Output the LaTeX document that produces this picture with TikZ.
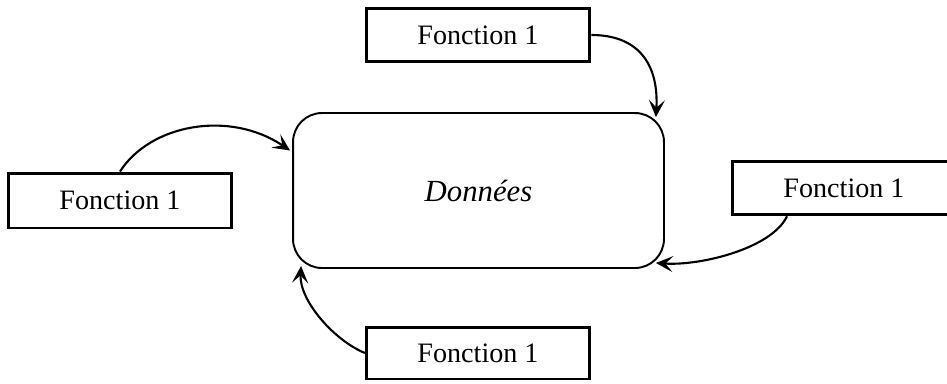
\documentclass[tikz,border=0pt]{standalone}
\usepackage{fontspec}
\setmainfont{Liberation Serif}
\usetikzlibrary{arrows.meta,calc}
\tikzset{
  fbox/.style={draw, line width=1.7pt, rectangle, inner sep=0pt,
    font=\fontsize{16}{19}\selectfont, minimum height=1.07cm},
  databox/.style={draw, line width=1.1pt, rounded corners=0.58cm,
    minimum width=7.42cm, minimum height=3.1cm,
    font=\fontsize{17.5}{21}\selectfont\itshape},
  flow/.style={line width=1.2pt,
    -{Stealth[length=0.34cm,width=0.32cm,inset=0.15cm]}},
}
\begin{document}
\begin{tikzpicture}[x=0.02cm,y=-0.02cm]
\useasboundingbox (0,0) rectangle (947,383);

% central data store
\node[databox] (data) at (478.5,190.5) {Données};

% the four functions around it
\node[fbox, minimum width=4.48cm] (ftop)   at (478,35)    {Fonction 1};
\node[fbox, minimum width=4.48cm, minimum height=1.1cm] (fleft) at (120,200.5) {Fonction 1};
\node[fbox, minimum width=4.48cm] (fright) at (844,188)   {Fonction 1};
\node[fbox, minimum width=4.46cm, minimum height=1.04cm] (fbot) at (478,353) {Fonction 1};

% accesses to the data
\draw[flow] (ftop.east) .. controls +(45,0) and +(3,-55) ..
  ($(data.north east)+(-9,5)$);
\draw[flow] (fleft.north) .. controls +(30,-47) and +(-61,-41) ..
  ($(data.west)+(-2,-40)$);
\draw[flow] ($(fright.south)+(-57,0)$) .. controls +(-15,32) and +(45,3) ..
  ($(data.south east)+(-9,-6)$);
\draw[flow] (fbot.west) .. controls +(-30,-12) and +(-2,35) ..
  ($(data.south west)+(9,-3)$);
\end{tikzpicture}
\end{document}
